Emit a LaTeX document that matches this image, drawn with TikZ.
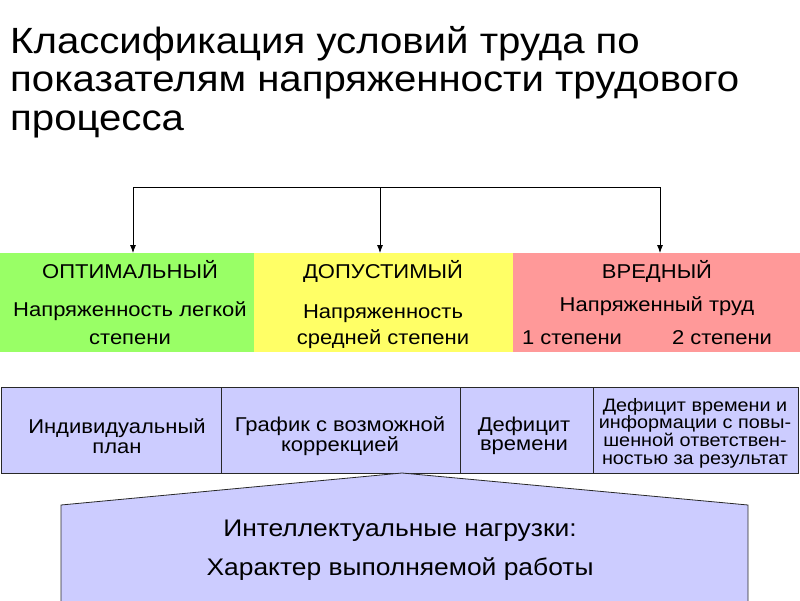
\documentclass[tikz,border=0pt]{standalone}
\usepackage{fontspec}
\setmainfont{Liberation Sans}[FakeStretch=1.1]
\usetikzlibrary{arrows.meta}
\definecolor{cgreen}{RGB}{153,255,102}
\definecolor{cyellow}{RGB}{255,255,102}
\definecolor{cpink}{RGB}{255,153,153}
\definecolor{clav}{RGB}{204,204,255}
\definecolor{cline}{RGB}{40,40,40}
\tikzset{
  band/.style={draw=none, inner sep=0pt, minimum height=99pt, anchor=north west},
  bandtxt/.style={inner sep=0pt, font=\fontsize{20}{22}\selectfont, anchor=base},
  titletxt/.style={inner sep=0pt, anchor=base west, font=\fontsize{36.5}{38.5}\selectfont},
  cell/.style={draw=cline, line width=0.8pt, fill=clav, inner sep=0pt, minimum height=86pt, anchor=north west},
  celltxt/.style={inner sep=0pt, align=center, font=\fontsize{20}{19.5}\selectfont},
  bottxt/.style={inner sep=0pt, anchor=base, font=\fontsize{24}{26}\selectfont},
  conn/.style={line width=0.8pt, black},
  arr/.style={conn, -{Latex[length=8pt,width=6pt]}},
}
\begin{document}
\begin{tikzpicture}[x=1pt,y=-1pt]
\useasboundingbox (0,0) rectangle (800,600);
% title
\node[titletxt] (title1) at (10,53) {Классификация условий труда по};
\node[titletxt] (title2) at (10,91.5) {показателям напряженности трудового};
\node[titletxt] (title3) at (10,130) {процесса};
% bands
\node[band, fill=cgreen, minimum width=254pt] (opt) at (0,253) {};
\node[band, fill=cyellow, minimum width=259pt] (dop) at (254,253) {};
\node[band, fill=cpink, minimum width=287pt] (vred) at (513,253) {};
% connectors
\coordinate (hl) at (133,187);
\coordinate (hm) at (380,187);
\coordinate (hr) at (660,187);
\draw[conn] (hl) -- (hr);
\draw[arr] (hl) -- (hl |- opt.north);
\draw[arr] (hm) -- (hm |- dop.north);
\draw[arr] (hr) -- (hr |- vred.north);
% band texts
\node[bandtxt] (t1a) at (130,278) {ОПТИМАЛЬНЫЙ};
\node[bandtxt] (t1b) at (130,316) {Напряженность легкой};
\node[bandtxt] (t1c) at (130,344) {степени};
\node[bandtxt] (t2a) at (383,278) {ДОПУСТИМЫЙ};
\node[bandtxt] (t2b) at (383,318) {Напряженность};
\node[bandtxt] (t2c) at (383,344) {средней степени};
\node[bandtxt] (t3a) at (657,278) {ВРЕДНЫЙ};
\node[bandtxt] (t3b) at (657,311) {Напряженный труд};
\node[bandtxt] (t3c) at (572,344) {1 степени};
\node[bandtxt] (t3d) at (722,344) {2 степени};
% table
\node[cell, minimum width=220pt] (c1) at (1,387) {};
\node[cell, minimum width=239pt] (c2) at (221,387) {};
\node[cell, minimum width=133pt] (c3) at (460,387) {};
\node[cell, minimum width=205pt] (c4) at (593,387) {};
\node[celltxt] (c1t) at (117,436) {Индивидуальный\\план};
\node[celltxt] (c2t) at (340,436) {График с возможной\\коррекцией};
\node[celltxt] (c3t) at (524,436) {Дефицит\\времени};
\node[celltxt, font=\fontsize{18}{17.7}\selectfont] (c4t) at (695,433)
  {Дефицит времени и\\информации с повы-\\шенной ответствен-\\ностью за результат};
% bottom shape
\coordinate (bl) at (61,601);
\coordinate (blt) at (61,505);
\coordinate (peak) at (402,473);
\coordinate (brt) at (748,505);
\coordinate (br) at (748,601);
\fill[clav] (bl) -- (blt) -- (peak) -- (brt) -- (br) -- cycle;
\draw[line width=0.8pt, cline] (bl) -- (blt) -- (peak) -- (brt) -- (br);
\node[bottxt] (b1) at (400,536) {Интеллектуальные нагрузки:};
\node[bottxt] (b2) at (400,575) {Характер выполняемой работы};
\end{tikzpicture}
\end{document}
